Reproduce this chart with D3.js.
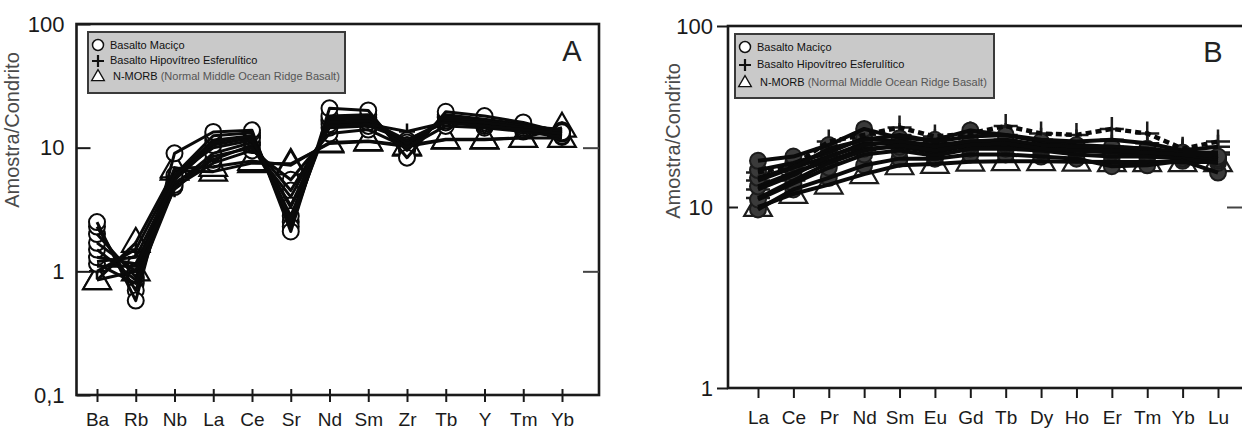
<!DOCTYPE html>
<html>
<head>
<meta charset="utf-8">
<script src="https://cdn.jsdelivr.net/npm/d3@7"></script>
<style>
    body { margin: 0; background: #fff; }
    svg text { font-family: "Liberation Sans", Arial, sans-serif; }
</style>
</head>
<body>
<svg id="chart" width="1242" height="431"></svg>
<script>
// Categories (elements)
const catsA = ["Ba", "Rb", "Nb", "La", "Ce", "Sr", "Nd", "Sm", "Zr", "Tb", "Y", "Tm", "Yb"];
const catsB = ["La", "Ce", "Pr", "Nd", "Sm", "Eu", "Gd", "Tb", "Dy", "Ho", "Er", "Tm", "Yb", "Lu"];

// Panel A - spider diagram (sample / chondrite)
const macicoA = [
    [2.5, 0.58, 9.0, 13.4, 13.8, 2.1, 20.8, 20.0, 8.3, 19.5, 18.0, 16.0, 13.3],
    [2.3, 0.7, 6.0, 12.5, 13.2, 2.3, 18.0, 18.5, 9.5, 18.5, 17.0, 15.5, 13.5],
    [2.0, 0.9, 5.5, 10.5, 12.0, 2.8, 17.0, 17.0, 10.5, 17.5, 16.0, 15.0, 13.0],
    [1.7, 1.0, 5.0, 9.0, 11.0, 3.4, 15.5, 16.0, 11.0, 16.5, 15.5, 14.5, 12.5],
    [1.5, 0.85, 5.8, 11.5, 12.5, 2.5, 16.5, 17.5, 9.8, 17.8, 16.5, 15.2, 13.8],
    [1.3, 1.15, 5.2, 8.0, 10.5, 4.5, 14.5, 15.0, 11.5, 16.0, 15.0, 14.0, 12.8],
    [1.15, 0.8, 4.8, 7.5, 9.5, 5.5, 13.0, 14.0, 10.0, 15.0, 14.5, 13.5, 12.2]
];
const hipoA = [
    [1.2, 1.3, 5.5, 11.0, 12.5, 2.6, 17.5, 17.5, 10.8, 17.0, 16.5, 15.0, 14.0],
    [1.0, 1.5, 6.0, 10.0, 11.5, 3.3, 16.0, 16.5, 11.5, 16.5, 16.0, 14.5, 13.5],
    [1.1, 1.1, 4.6, 8.5, 10.0, 4.0, 15.0, 15.5, 13.5, 16.0, 15.0, 14.0, 13.0]
];
const morbA = [
    [0.85, 1.7, 6.5, 6.4, 7.5, 7.4, 10.8, 11.2, 10.2, 11.6, 11.6, 12.0, 12.0],
    [0.85, 1.0, 6.8, 7.0, 7.8, 7.2, 11.0, 11.3, 10.4, 11.7, 11.7, 12.0, 14.5]
];

// Panel B - REE (sample / chondrite)
const macicoB = [
    [18.0, 19.0, 22.0, 27.0, 24.0, 23.5, 26.5, 25.0, 23.0, 22.0, 21.5, 21.0, 20.0, 19.0],
    [16.0, 17.5, 20.0, 24.0, 23.0, 22.0, 23.0, 23.0, 22.0, 21.0, 20.5, 20.5, 19.5, 18.5],
    [14.5, 16.5, 19.0, 22.5, 22.5, 21.0, 22.5, 22.5, 21.5, 21.0, 20.5, 20.0, 19.5, 18.5],
    [13.0, 15.5, 18.0, 21.0, 21.5, 20.0, 22.0, 22.0, 21.0, 20.5, 20.0, 19.5, 19.0, 18.0],
    [11.0, 13.5, 16.5, 19.5, 20.5, 19.2, 21.0, 21.0, 20.5, 19.5, 19.0, 19.0, 18.5, 17.5],
    [9.7, 12.5, 14.5, 17.0, 18.5, 18.5, 19.5, 19.5, 19.0, 18.5, 16.8, 17.0, 18.0, 15.5]
];
const hipoB = [
    [15.5, 17.0, 23.0, 25.0, 27.5, 24.5, 25.5, 28.0, 25.5, 25.0, 27.0, 25.5, 21.0, 23.0],
    [14.0, 16.5, 21.0, 23.5, 25.0, 23.0, 24.5, 25.0, 23.5, 23.0, 23.5, 22.5, 20.5, 21.5],
    [12.5, 15.0, 19.0, 22.0, 23.0, 21.5, 23.0, 23.5, 22.0, 21.5, 21.5, 21.0, 20.0, 20.0],
    [11.2, 14.0, 17.5, 20.5, 22.0, 20.5, 22.0, 22.5, 21.0, 20.5, 20.5, 20.0, 19.5, 19.5]
];
const morbB = [
    [10.0, 11.8, 13.3, 15.2, 17.0, 17.3, 17.8, 17.9, 17.9, 17.8, 17.7, 17.7, 17.7, 17.7]
];

const yTicksA = [0.1, 1, 10, 100];
const yTicksB = [1, 10, 100];
const legendLabels = ["Basalto Maciço", "Basalto Hipovítreo Esferulítico", "N-MORB"];
const legendNote = " (Normal Middle Ocean Ridge Basalt)";

const svg = d3.select("#chart");

function plusPath(a) {
    return `M${-a},0H${a}M0,${-a}V${a}`;
}

function drawPanel(p) {
    const g = svg.append("g");

    const x = d3.scalePoint().domain(p.cats).range([p.x0, p.x1]);
    const y = d3.scaleLog().domain(p.yDomain).range([p.bottom, p.top]);

    const line = d3.line()
        .x((d, i) => x(p.cats[i]))
        .y(d => y(d));

    const pts = (series) => series.flatMap(s => s.map((v, i) => ({ v: v, c: p.cats[i] })));

    // Markers first, lines drawn over them
    const mk = g.append("g").attr("stroke", p.markStroke);
    mk.selectAll(".tri").data(pts(p.morb)).enter().append("path")
        .attr("transform", d => `translate(${x(d.c)},${y(d.v) + 1})`)
        .attr("d", d3.symbol(d3.symbolTriangle, p.tri)())
        .attr("fill", p.triFill).attr("stroke-width", 2.2);
    mk.selectAll(".plus").data(pts(p.hipo)).enter().append("path")
        .attr("transform", d => `translate(${x(d.c)},${y(d.v)})`)
        .attr("d", plusPath(p.plus))
        .attr("fill", "none").attr("stroke-width", 2.5);
    mk.selectAll("circle").data(pts(p.macico.slice().reverse())).enter().append("circle")
        .attr("cx", d => x(d.c)).attr("cy", d => y(d.v))
        .attr("r", p.r).attr("fill", p.circleFill).attr("stroke-width", 2);

    const lines = g.append("g").attr("fill", "none").attr("stroke", "#0a0a0a")
        .attr("stroke-linejoin", "round");
    lines.selectAll(".l-morb").data(p.morb).enter().append("path")
        .attr("d", line).attr("stroke-width", p.lw);
    lines.selectAll(".l-mac").data(p.macico).enter().append("path")
        .attr("d", line).attr("stroke-width", p.lw);
    lines.selectAll(".l-hipo").data(p.hipo).enter().append("path")
        .attr("d", line)
        .attr("stroke-width", (d, i) => (p.dashFirst && i === 0) ? 4.5 : p.lw)
        .attr("stroke-dasharray", (d, i) => (p.dashFirst && i === 0) ? "6,4" : null);

    // Frame
    g.append("rect")
        .attr("x", p.left).attr("y", p.top)
        .attr("width", p.right - p.left).attr("height", p.bottom - p.top)
        .attr("fill", "none").attr("stroke", "#1a1a1a").attr("stroke-width", 2.6);

    // X axis
    const xa = g.append("g")
        .attr("transform", `translate(0,${p.bottom})`)
        .call(d3.axisBottom(x).tickSize(p.xTick).tickPadding(p.xPad).tickSizeOuter(0));
    xa.select(".domain").remove();
    xa.selectAll("line").attr("stroke", "#1a1a1a").attr("stroke-width", 2).attr("y1", p.xTickIn);
    xa.selectAll("text").attr("font-size", 19).attr("fill", "#1a1a1a");

    // Y axis (left)
    const ya = g.append("g")
        .attr("transform", `translate(${p.left},0)`)
        .call(d3.axisLeft(y).tickValues(p.yTicks).tickSize(p.yTick).tickPadding(p.yPad)
            .tickFormat(d => d < 1 ? "0,1" : d3.format("d")(d)));
    ya.select(".domain").remove();
    ya.selectAll("line").attr("stroke", "#1a1a1a").attr("stroke-width", 2);
    ya.selectAll("text").attr("font-size", 22).attr("fill", "#1a1a1a");
    if (p.crossAt) {
        ya.selectAll(".tick").filter(d => d === p.crossAt).select("line").attr("x2", 10);
    }

    // Y ticks (right, inward)
    const yr = g.append("g")
        .attr("transform", `translate(${p.right},0)`)
        .call(d3.axisRight(y).tickValues(p.rightTicks).tickSize(-p.rightLen).tickFormat(""));
    yr.select(".domain").remove();
    yr.selectAll("line").attr("stroke", "#444").attr("stroke-width", 2);

    // Y title
    g.append("text")
        .attr("transform", `translate(${p.titleX},${p.titleY}) rotate(-90)`)
        .attr("text-anchor", "middle")
        .attr("font-size", 20)
        .attr("fill", "#4a4a4a")
        .text("Amostra/Condrito");

    // Panel letter
    g.append("text")
        .attr("x", p.letterX).attr("y", p.letterY)
        .attr("text-anchor", "middle")
        .attr("font-size", 29)
        .attr("fill", "#222")
        .text(p.letter);

    // Legend
    const lg = g.append("g").attr("transform", `translate(${p.lgX},${p.lgY})`);
    lg.append("rect")
        .attr("width", p.lgW).attr("height", p.lgH)
        .attr("fill", "#c9c9c9").attr("stroke", "#3a3a3a").attr("stroke-width", 2);
    const rows = p.lgRows;
    lg.append("circle").attr("cx", 10).attr("cy", rows[0]).attr("r", 5.5)
        .attr("fill", "#fff").attr("stroke", "#111").attr("stroke-width", 1.5);
    lg.append("path").attr("transform", `translate(10,${rows[1] + 1})`).attr("d", plusPath(6))
        .attr("stroke", "#111").attr("stroke-width", 2.2);
    lg.append("path").attr("transform", `translate(10,${rows[2] + 1})`)
        .attr("d", d3.symbol(d3.symbolTriangle, 70)())
        .attr("fill", "#fff").attr("stroke", "#111").attr("stroke-width", 1.3);
    legendLabels.forEach((t, i) => {
        const tx = lg.append("text")
            .attr("x", i === 2 ? 25 : 22).attr("y", rows[i] + 4)
            .attr("font-size", 11).attr("fill", "#111")
            .text(t);
        if (i === 2) {
            tx.append("tspan").attr("fill", "#555").text(legendNote);
        }
    });
}

drawPanel({
    cats: catsA, macico: macicoA, hipo: hipoA, morb: morbA,
    x0: 97, x1: 562, left: 76.5, right: 599, top: 24, bottom: 395,
    yDomain: [0.1, 100], yTicks: yTicksA, rightTicks: [1, 10],
    xTick: 7, xTickIn: -6, xPad: 11, yTick: -14, yPad: 12, rightLen: 16, crossAt: null,
    lw: 3, r: 8, plus: 8, tri: 330, circleFill: "#fff", triFill: "#fff", markStroke: "#0a0a0a",
    dashFirst: false,
    titleX: 19, titleY: 130, letter: "A", letterX: 572, letterY: 61,
    lgX: 88, lgY: 32, lgW: 257, lgH: 61, lgRows: [13, 28, 44]
});

drawPanel({
    cats: catsB, macico: macicoB, hipo: hipoB, morb: morbB,
    x0: 758, x1: 1218, left: 728, right: 1245, top: 26, bottom: 388,
    yDomain: [1, 100], yTicks: yTicksB, rightTicks: [10],
    xTick: 10, xTickIn: 0, xPad: 13, yTick: 11, yPad: 4, rightLen: 18, crossAt: 10,
    lw: 4, r: 8, plus: 12, tri: 330, circleFill: "#3a3a3a", triFill: "none", markStroke: "#1c1c1c",
    dashFirst: true,
    titleX: 680, titleY: 141, letter: "B", letterX: 1213, letterY: 62,
    lgX: 735, lgY: 34, lgW: 259, lgH: 64, lgRows: [13, 30, 48]
});
</script>
</body>
</html>
